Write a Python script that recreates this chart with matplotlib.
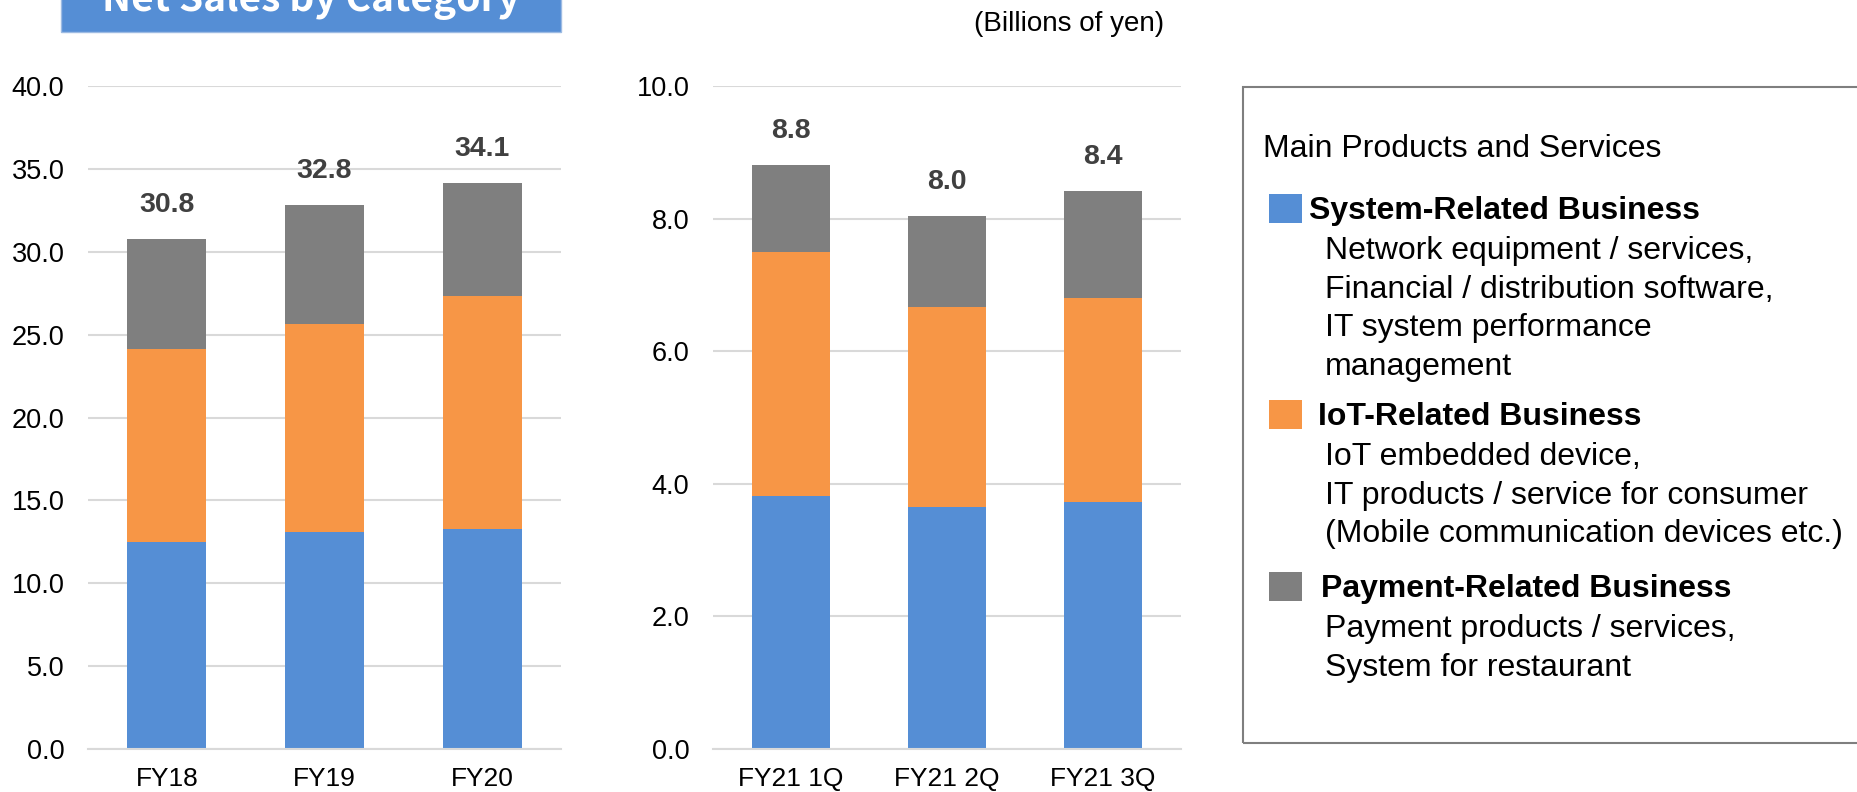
import numpy as np
import matplotlib
matplotlib.use('Agg')
import matplotlib.pyplot as plt
from matplotlib.patches import Rectangle

plt.rcParams['font.family'] = ['Liberation Sans', 'DejaVu Sans']

years = ['FY18', 'FY19', 'FY20']
quarters = ['FY21 1Q', 'FY21 2Q', 'FY21 3Q']

# billions of yen
system_y = [12.50, 13.10, 13.30]
iot_y = [11.66, 12.55, 14.04]
payment_y = [6.61, 7.19, 6.80]

system_q = [3.81, 3.65, 3.73]
iot_q = [3.69, 3.02, 3.07]
payment_q = [1.31, 1.37, 1.62]

colors = ['#558ED5', '#F79646', '#7F7F7F']
W, H = 1858, 792

fig = plt.figure(figsize=(W / 100, H / 100), dpi=100)


def fx(x):
    return x / W


def fy(y):
    return 1 - y / H


def draw(x0, x1, cats, series, ymax, step):
    ax = fig.add_axes([fx(x0), fy(749), (x1 - x0) / W, (749 - 86) / H])
    x = np.arange(len(cats))
    bottom = np.zeros(len(cats))
    for vals, c in zip(series, colors):
        ax.bar(x, vals, 0.5, bottom=bottom, color=c, zorder=2)
        bottom += np.array(vals)
    for xi, t in zip(x, bottom):
        ax.annotate(f'{t:.1f}', (xi, t), xytext=(0, 24.5), textcoords='offset points',
                    ha='center', va='center', fontsize=20.5, fontweight='bold', color='#404040')
    ax.set_xlim(-0.5, 2.5)
    ax.set_ylim(0, ymax)
    ax.set_yticks(np.arange(0, ymax + step / 2, step))
    ax.yaxis.set_major_formatter('{x:.1f}')
    ax.set_xticks(x, cats)
    ax.grid(axis='y', color='#D9D9D9', linewidth=1.5, zorder=0)
    for s in ['top', 'right', 'left']:
        ax.spines[s].set_visible(False)
    ax.spines['bottom'].set_color('#D9D9D9')
    ax.spines['bottom'].set_linewidth(1.5)
    ax.tick_params(axis='y', length=0, labelsize=19.5, pad=17)
    ax.tick_params(axis='x', length=0, labelsize=19, pad=13)
    return ax


draw(88, 561, years, [system_y, iot_y, payment_y], 40, 5)
draw(713, 1181, quarters, [system_q, iot_q, payment_q], 10, 2)

# title banner, cut at the top edge
fig.patches.append(Rectangle((fx(61), fy(32)), fx(561) - fx(61), 32 / H + 0.01,
                             transform=fig.transFigure, facecolor='#558ED5',
                             edgecolor='#9DBBE3', linewidth=1))
fig.text(fx(311), fy(11), 'Net Sales by Category', color='white', fontsize=28,
         fontweight='bold', family=['Noto Sans CJK JP', 'DejaVu Sans'],
         ha='center', va='baseline')

fig.text(fx(1069), fy(24), '(Billions of yen)', fontsize=20, ha='center', va='center')

# description box
fig.patches.append(Rectangle((fx(1243), fy(743)), fx(1900) - fx(1243), (743 - 87) / H,
                             transform=fig.transFigure, fill=False,
                             edgecolor='#7F7F7F', linewidth=1.5))

fs = 23
fig.text(fx(1263), fy(157), 'Main Products and Services', fontsize=fs, va='baseline')

groups = [
    ('System-Related Business', 194, 1309,
     ['Network equipment / services,', 'Financial / distribution software,',
      'IT system performance', 'management']),
    ('IoT-Related Business', 400, 1318,
     ['IoT embedded device,', 'IT products / service for consumer',
      '(Mobile communication devices etc.)']),
    ('Payment-Related Business', 572, 1321,
     ['Payment products / services,', 'System for restaurant']),
]
for (head, sq_top, hx, lines), c in zip(groups, colors):
    fig.patches.append(Rectangle((fx(1269), fy(sq_top + 29)), 33 / W, 29 / H,
                                 transform=fig.transFigure, facecolor=c, edgecolor='none'))
    fig.text(fx(hx), fy(sq_top + 25), head, fontsize=fs, fontweight='bold', va='baseline')
    for i, line in enumerate(lines):
        fig.text(fx(1325), fy(sq_top + 65 + 38.7 * i), line, fontsize=fs, va='baseline')

fig.savefig('out.png', dpi=100)
